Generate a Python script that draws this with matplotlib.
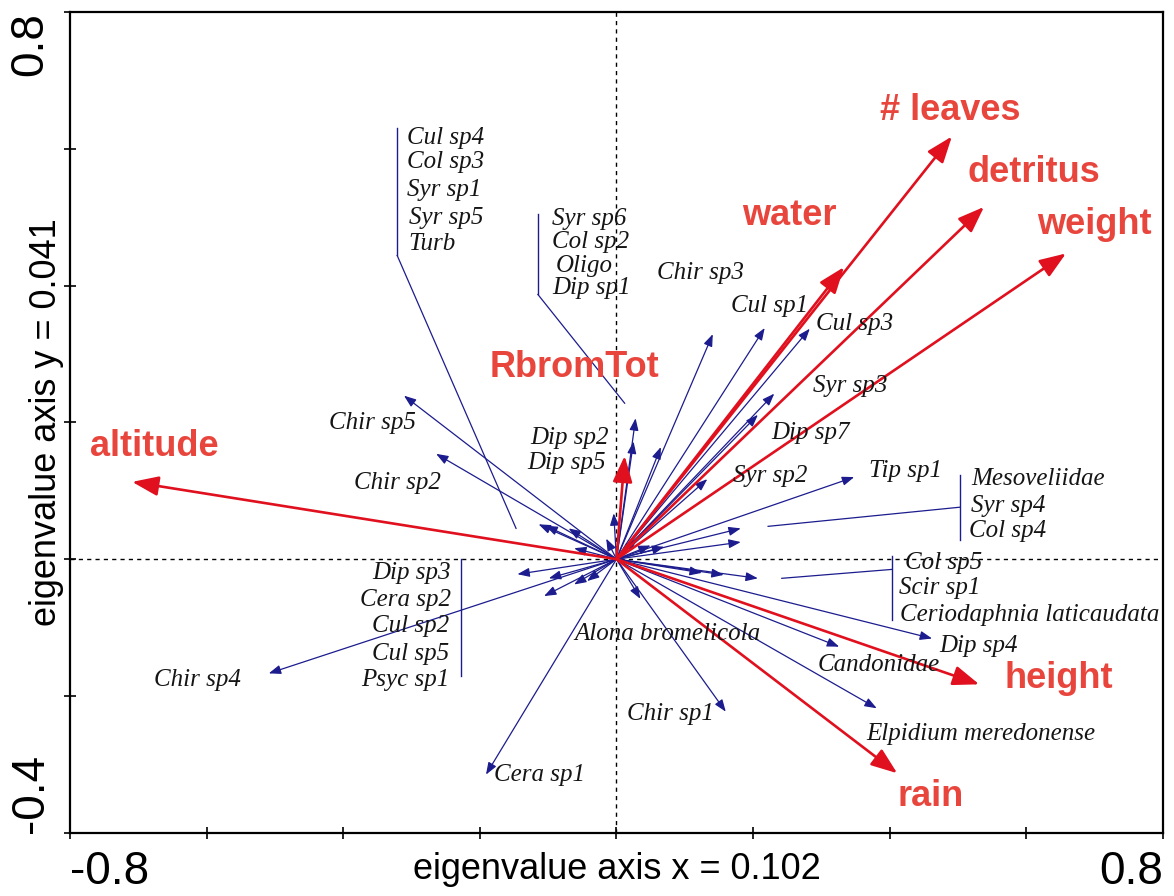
import matplotlib.pyplot as plt

# environmental variables: arrow tips on the two axes
env_names = ["altitude", "# leaves", "detritus", "weight", "water",
             "RbromTot", "height", "rain"]
env_x = [-0.709, 0.491, 0.538, 0.658, 0.333, 0.012, 0.531, 0.411]
env_y = [0.113, 0.618, 0.515, 0.447, 0.427, 0.151, -0.183, -0.313]

# species arrow tips
species = [
    "Cul sp4", "Col sp3", "Syr sp1", "Syr sp5", "Turb",
    "Syr sp6", "Col sp2", "Oligo", "Dip sp1",
    "Chir sp3", "Cul sp1", "Cul sp3", "Syr sp3", "Dip sp7", "Syr sp2", "Tip sp1",
    "Mesoveliidae", "Syr sp4", "Col sp4",
    "Col sp5", "Scir sp1", "Ceriodaphnia laticaudata",
    "Dip sp4", "Candonidae", "Elpidium meredonense", "Chir sp1",
    "Alona bromelicola", "Cera sp1", "Chir sp4",
    "Dip sp3", "Cera sp2", "Cul sp2", "Cul sp5", "Psyc sp1",
    "Chir sp5", "Chir sp2", "Dip sp2", "Dip sp5",
]
sp_x = [
    -0.114, -0.104, -0.070, -0.062, -0.015,
    0.065, -0.004, 0.050, 0.030,
    0.141, 0.217, 0.283, 0.231, 0.207, 0.133, 0.348,
    0.182, 0.182, 0.070,
    0.125, 0.157, 0.207,
    0.462, 0.326, 0.381, 0.160, 0.035, -0.191, -0.509,
    -0.145, -0.099, -0.106, -0.062, -0.043,
    -0.311, -0.264, 0.028, 0.025,
]
sp_y = [
    0.051, 0.049, 0.045, 0.016, 0.030,
    0.164, 0.067, 0.020, 0.030,
    0.329, 0.338, 0.337, 0.242, 0.211, 0.117, 0.120,
    0.045, 0.025, 0.018,
    -0.020, -0.023, -0.028,
    -0.116, -0.128, -0.218, -0.223, -0.058, -0.315, -0.167,
    -0.022, -0.028, -0.054, -0.037, -0.032,
    0.239, 0.154, 0.206, 0.172,
]

# label layout (axis units)
env_lab = [(-0.676, 0.165), (0.488, 0.656), (0.611, 0.565), (0.699, 0.490),
           (0.253, 0.502), (-0.061, 0.280), (0.648, -0.174), (0.460, -0.347)]
sp_lab = [
    (-0.307, 0.616, "left"), (-0.307, 0.580, "left"), (-0.307, 0.540, "left"),
    (-0.304, 0.499, "left"), (-0.304, 0.461, "left"),
    (-0.094, 0.498, "left"), (-0.094, 0.464, "left"), (-0.089, 0.429, "left"),
    (-0.094, 0.397, "left"),
    (0.059, 0.419, "left"), (0.168, 0.370, "left"), (0.292, 0.344, "left"),
    (0.288, 0.253, "left"), (0.226, 0.184, "left"), (0.170, 0.122, "left"),
    (0.370, 0.129, "left"),
    (0.520, 0.117, "left"), (0.519, 0.078, "left"), (0.516, 0.041, "left"),
    (0.422, -0.006, "left"), (0.414, -0.042, "left"), (0.415, -0.081, "left"),
    (0.472, -0.127, "left"), (0.294, -0.155, "left"), (0.365, -0.255, "left"),
    (0.015, -0.227, "left"), (-0.061, -0.110, "left"), (-0.179, -0.315, "left"),
    (-0.677, -0.177, "left"),
    (-0.242, -0.020, "right"), (-0.242, -0.059, "right"), (-0.245, -0.098, "right"),
    (-0.245, -0.138, "right"), (-0.245, -0.176, "right"),
    (-0.421, 0.199, "left"), (-0.384, 0.111, "left"),
    (-0.011, 0.177, "right"), (-0.015, 0.141, "right"),
]
# grouped labels: bar x, bar y0, bar y1, leader from (x, y) to (x, y)
groups = [
    (-0.321, 0.631, 0.444, (-0.321, 0.444), (-0.147, 0.045)),
    (-0.115, 0.505, 0.387, (-0.115, 0.387), (0.012, 0.228)),
    (0.503, 0.123, 0.028, (0.503, 0.076), (0.222, 0.048)),
    (0.403, 0.004, -0.089, (0.403, -0.015), (0.242, -0.028)),
    (-0.228, 0.000, -0.171, None, None),
]

RED = "#e0101e"
RED_TXT = "#e8453d"
NAVY = "#1c1c8e"

fig = plt.figure(figsize=(11.74, 8.96), dpi=100)
ax = fig.add_axes([0.0596, 0.0706, 0.9310, 0.9160])
ax.set_xlim(-0.8, 0.8)
ax.set_ylim(-0.4, 0.8)

ax.axhline(0, color="black", lw=1, ls=(0, (3, 3)), zorder=1)
ax.axvline(0, color="black", lw=1, ls=(0, (3, 3)), zorder=1)

for x, y in zip(sp_x, sp_y):
    ax.annotate("", xy=(x, y), xytext=(0, 0),
                arrowprops=dict(arrowstyle="-|>,head_length=0.4,head_width=0.15",
                                mutation_scale=18, color=NAVY, lw=0.9,
                                shrinkA=0, shrinkB=0), zorder=2)

for bx, by0, by1, p0, p1 in groups:
    ax.plot([bx, bx], [by0, by1], color=NAVY, lw=1, zorder=2)
    if p0 is not None:
        ax.plot([p0[0], p1[0]], [p0[1], p1[1]], color=NAVY, lw=0.9, zorder=2)

for x, y in zip(env_x, env_y):
    ax.annotate("", xy=(x, y), xytext=(0, 0),
                arrowprops=dict(arrowstyle="-|>,head_length=0.4,head_width=0.15",
                                mutation_scale=40, color=RED, lw=1.9,
                                shrinkA=0, shrinkB=0), zorder=3)

for name, (lx, ly, ha) in zip(species, sp_lab):
    ax.text(lx, ly, name, ha=ha, va="center", fontsize=18, style="italic",
            family="Liberation Serif", color="#151515", zorder=4)

for name, (lx, ly) in zip(env_names, env_lab):
    ax.text(lx, ly, name, ha="center", va="center", fontsize=26,
            weight="bold", family="Liberation Sans", color=RED_TXT, zorder=4)

ticks = [-0.8, -0.6, -0.4, -0.2, 0, 0.2, 0.4, 0.6, 0.8]
ax.set_xticks(ticks)
ax.set_xticklabels(["-0.8"] + [""] * 7 + ["0.8"])
yticks = [-0.4, -0.2, 0, 0.2, 0.4, 0.6, 0.8]
ax.set_yticks(yticks)
ax.set_yticklabels(["-0.4"] + [""] * 5 + ["0.8"])
ax.tick_params(direction="inout", length=9, width=1.2, labelsize=33, pad=8)
for lab in ax.get_xticklabels():
    lab.set_family("Liberation Sans")
xl = ax.get_xticklabels()
xl[0].set_ha("left")
xl[-1].set_ha("right")
yl = ax.get_yticklabels()
for lab in yl:
    lab.set_family("Liberation Sans")
    lab.set_rotation(90)
yl[0].set_va("bottom")
yl[-1].set_va("top")

for s in ax.spines.values():
    s.set_linewidth(1.6)

ax.set_xlabel("eigenvalue axis x = 0.102", fontsize=26, family="Liberation Sans",
              labelpad=-30)
ax.set_ylabel("eigenvalue axis y = 0.041", fontsize=26, family="Liberation Sans",
              labelpad=-40)

fig.savefig("out.png", dpi=100)
